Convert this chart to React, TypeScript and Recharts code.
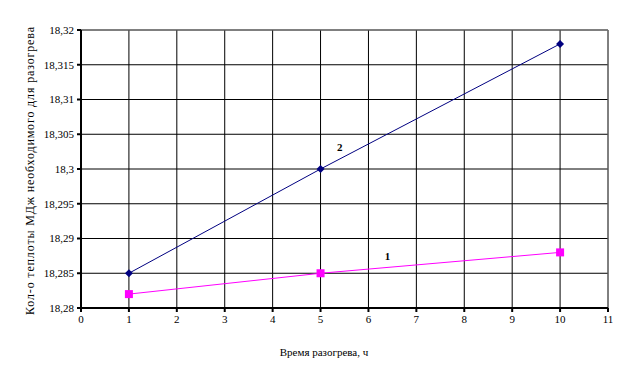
import { LineChart, Line, XAxis, YAxis, CartesianGrid, ReferenceLine, ReferenceDot } from "recharts"

const hours = [1, 5, 10]
const heat1 = [18.282, 18.285, 18.288]
const heat2 = [18.285, 18.3, 18.318]
const xTicks = [0, 1, 2, 3, 4, 5, 6, 7, 8, 9, 10, 11]
const yTicks = [18.28, 18.285, 18.29, 18.295, 18.3, 18.305, 18.31, 18.315, 18.32]
const xTitle = "Время разогрева, ч"
const yTitle = "Кол-о теплоты МДж необходимого для разогрева"

const data = hours.map((h, i) => ({ h, s1: heat1[i], s2: heat2[i] }))

const FONT = "Liberation Serif, Times New Roman, DejaVu Serif, serif"

const Diamond = (props: any) => {
  const { cx, cy, index } = props
  if (cx == null || cy == null) return <g key={index} />
  return <path key={index} d={`M${cx},${cy - 4}L${cx + 4},${cy}L${cx},${cy + 4}L${cx - 4},${cy}Z`} fill="#000080" />
}

const Square = (props: any) => {
  const { cx, cy, index } = props
  if (cx == null || cy == null) return <g key={index} />
  return <rect key={index} x={cx - 4} y={cy - 4} width={8} height={8} fill="#ff00ff" />
}

export default function App() {
  return (
    <div style={{ width: 623, height: 365, background: "#fff", fontFamily: FONT }}>
      <style>{"body{margin:0} svg text{font-family:'Liberation Serif','Times New Roman',serif !important}"}</style>
      <LineChart width={623} height={365} data={data} margin={{ top: 30, right: 15, bottom: 27, left: 21 }}>
        <CartesianGrid stroke="#000" strokeWidth={1} />
        <XAxis
          dataKey="h"
          type="number"
          domain={[0, 11]}
          ticks={xTicks}
          height={30}
          stroke="#000"
          strokeWidth={2}
          tickSize={4}
          tickMargin={3}
          tick={{ fill: "#000", fontSize: 11 }}
          label={{
            content: () => (
              <text x={324} y={356} textAnchor="middle" fontSize={11} fill="#000">
                {xTitle}
              </text>
            ),
          }}
        />
        <YAxis
          type="number"
          domain={[18.28, 18.32]}
          ticks={yTicks}
          width={60}
          stroke="#000"
          strokeWidth={2}
          tickSize={4}
          tickMargin={3}
          tickFormatter={(v: number) => String(v).replace(".", ",")}
          tick={{ fill: "#000", fontSize: 11 }}
          label={{
            content: () => (
              <text
                x={30}
                y={171}
                transform="rotate(-90 30 171)"
                textAnchor="middle"
                dominantBaseline="central"
                fontSize={12}
                fill="#000"
                textLength={288}
                lengthAdjust="spacing"
              >
                {yTitle}
              </text>
            ),
          }}
        />
        <ReferenceLine y={18.32} stroke="#808080" strokeWidth={1} />
        <ReferenceLine x={11} stroke="#808080" strokeWidth={1} />
        <Line dataKey="s1" stroke="#ff00ff" strokeWidth={1} dot={Square} isAnimationActive={false} />
        <Line dataKey="s2" stroke="#000080" strokeWidth={1} dot={Diamond} isAnimationActive={false} />
        <ReferenceDot
          x={6.4}
          y={18.2875}
          r={0}
          label={{ value: "1", fontSize: 11, fontWeight: "bold", fill: "#000" }}
        />
        <ReferenceDot
          x={5.4}
          y={18.3032}
          r={0}
          label={{ value: "2", fontSize: 11, fontWeight: "bold", fill: "#000" }}
        />
      </LineChart>
    </div>
  )
}
